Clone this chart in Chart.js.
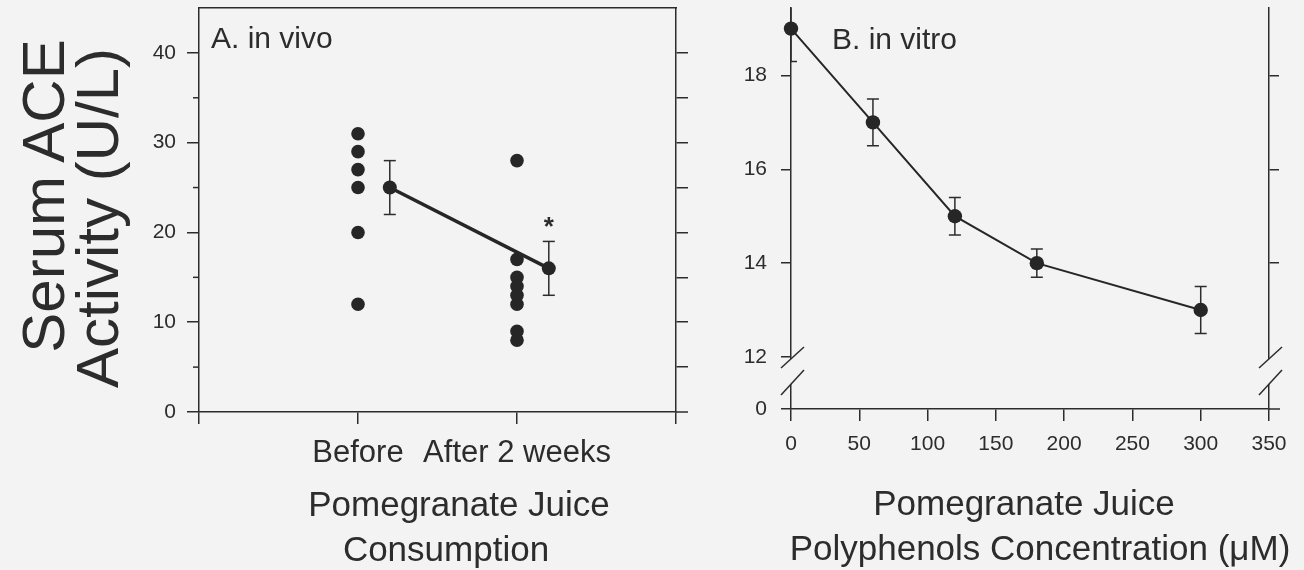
<!DOCTYPE html>
<html>
<head>
<meta charset="utf-8">
<script src="https://cdn.jsdelivr.net/npm/chart.js@4.4.1/dist/chart.umd.min.js"></script>
<style>
  body { margin: 0; background: #f3f3f3; }
  #wrap { position: relative; width: 1304px; height: 570px; overflow: hidden;
          font-family: 'Liberation Sans', Arial, sans-serif; color: #2c2c2c; }
  canvas { position: absolute; top: 0; }
  .lbl { position: absolute; white-space: nowrap; line-height: 1; transform: translate(-50%, -50%); }
  .left { transform: translate(0, -50%); }
  .rot { transform: translate(-50%, -50%) rotate(-90deg); }
</style>
</head>
<body>
<div id="wrap">
  <canvas id="vivo" width="700" height="570" style="left:0"></canvas>
  <canvas id="vitro" width="604" height="570" style="left:700px"></canvas>

  <div class="lbl rot" style="left:44px; top:196px; font-size:60px">Serum ACE</div>
  <div class="lbl rot" style="left:98px; top:218px; font-size:60px">Activity (U/L)</div>

  <div class="lbl left" style="left:211px; top:38px; font-size:30px">A. in vivo</div>
  <div class="lbl left" style="left:832px; top:39px; font-size:30px">B. in vitro</div>

  <div class="lbl" style="left:459px; top:503px; font-size:35px">Pomegranate Juice</div>
  <div class="lbl" style="left:446px; top:548px; font-size:35px">Consumption</div>
  <div class="lbl" style="left:1024px; top:502px; font-size:35px">Pomegranate Juice</div>
  <div class="lbl" style="left:1040px; top:547px; font-size:35px">Polyphenols Concentration (&mu;M)</div>
</div>
<script>
// panel A: individual patients, before / after 2 weeks of juice
const groupLabels = ['Before', 'After 2 weeks'];
const beforeValues = [31, 29, 27, 25, 20, 12];
const afterValues = [28, 17, 15, 14, 13, 12, 9, 8];
const groupMeans = [25, 16];
const groupErrors = [3, 3];
const meanX = [1.2, 2.2];
const vivoTicks = [0, 10, 20, 30, 40];
const vivoMinor = [5, 15, 25, 35];
const vivoRightTicks = [5, 10, 15, 20, 25, 30, 35, 40];

// panel B: serum ACE vs polyphenol concentration
const concentrations = [0, 60, 120, 180, 300];
const vitroMeans = [19, 17, 15, 14, 13];
const vitroErrors = [0.7, 0.5, 0.4, 0.3, 0.5];
const concTicks = [0, 50, 100, 150, 200, 250, 300, 350];
const vitroTicks = [12, 14, 16, 18];
const vitroRightTicks = [14, 16, 18];
const breakFloor = 10.89;   // where the broken axis shows "0"
const vitroTop = 19.45;

const FONT = "'Liberation Sans', Arial, sans-serif";
const INK = '#2c2c2c';
const DOT = '#262626';
const BG = '#f3f3f3';

function fixBox(w, h) {
    return function(scale) {
        if (w !== null) scale.width = w;
        if (h !== null) scale.height = h;
        scale.paddingTop = scale.paddingBottom = scale.paddingLeft = scale.paddingRight = 0;
    };
}
function setTicks(values) {
    return function(scale) { scale.ticks = values.map(v => ({ value: v })); };
}
function errorBar(x, m, e, cap) {
    return {
        data: [{ x: x, y: m - e }, { x: x, y: m + e }],
        showLine: true, borderColor: INK, borderWidth: 1.5,
        pointStyle: 'line', pointRadius: cap, pointHoverRadius: cap,
        pointBorderColor: INK, pointBorderWidth: 1.5, order: 2
    };
}
function axisGrid(len) {
    return { drawOnChartArea: false, tickLength: len, color: INK, lineWidth: 1.5, tickWidth: 1.5 };
}
const border = { color: INK, width: 1.5 };
const common = {
    responsive: false, animation: false, devicePixelRatio: 1,
    plugins: { legend: { display: false }, tooltip: { enabled: false } }
};

const vivoDecor = {
    id: 'vivoDecor',
    afterDraw(chart) {
        const { ctx, chartArea, scales } = chart;
        ctx.save();
        ctx.strokeStyle = INK;
        ctx.lineWidth = 1.5;
        vivoMinor.forEach(v => {
            const p = scales.y.getPixelForValue(v);
            ctx.beginPath(); ctx.moveTo(chartArea.left - 6, p); ctx.lineTo(chartArea.left, p); ctx.stroke();
        });
        ctx.beginPath(); ctx.moveTo(chartArea.right, chartArea.bottom); ctx.lineTo(chartArea.right + 12, chartArea.bottom); ctx.stroke();
        // significance mark over the "after" mean
        ctx.fillStyle = INK;
        ctx.font = 'bold 26px ' + FONT;
        ctx.textAlign = 'center';
        ctx.textBaseline = 'alphabetic';
        ctx.fillText('*', scales.x.getPixelForValue(meanX[1]), scales.y.getPixelForValue(groupMeans[1] + groupErrors[1]) - 6);
        ctx.restore();
    }
};

const vitroDecor = {
    id: 'vitroDecor',
    afterDraw(chart) {
        const { ctx, chartArea } = chart;
        const y12 = chart.scales.y.getPixelForValue(12);
        ctx.save();
        ctx.strokeStyle = INK;
        ctx.lineWidth = 1.5;
        [chartArea.left, chartArea.right].forEach(x => {
            ctx.fillStyle = BG;
            ctx.fillRect(x - 2, y12 + 2, 4, 25);
            [[11, -10], [38, 13]].forEach(([a, b]) => {
                ctx.beginPath(); ctx.moveTo(x - 10, y12 + a); ctx.lineTo(x + 13, y12 + b); ctx.stroke();
            });
        });
        ctx.beginPath(); ctx.moveTo(chartArea.right, chartArea.bottom); ctx.lineTo(chartArea.right + 11, chartArea.bottom); ctx.stroke();
        ctx.restore();
    }
};

new Chart(document.getElementById('vivo'), {
    type: 'scatter',
    data: {
        datasets: [
            { data: beforeValues.map(v => ({ x: 1, y: v })), pointRadius: 6.8, backgroundColor: DOT, borderWidth: 0, order: 0 },
            { data: afterValues.map(v => ({ x: 2, y: v })), pointRadius: 6.8, backgroundColor: DOT, borderWidth: 0, order: 0 },
            { data: meanX.map((x, i) => ({ x: x, y: groupMeans[i] })), showLine: true, borderColor: DOT, borderWidth: 3.5,
              pointRadius: 7, backgroundColor: DOT, pointBorderWidth: 0, order: 1 },
            ...meanX.map((x, i) => errorBar(x, groupMeans[i], groupErrors[i], 6))
        ]
    },
    options: Object.assign({}, common, {
        layout: { padding: { left: 139, right: 12, top: 8, bottom: 98 } },
        scales: {
            x: { type: 'linear', position: 'bottom', min: 0, max: 3,
                 afterBuildTicks: setTicks([0, 1, 2, 3]), afterFit: fixBox(null, 60),
                 ticks: { callback: v => groupLabels[v - 1] || '', font: { size: 31, family: FONT }, color: INK,
                          padding: 11, maxRotation: 0, autoSkip: false },
                 grid: axisGrid(12), border: border },
            xTop: { type: 'linear', position: 'top', min: 0, max: 3, afterFit: fixBox(null, 0),
                    ticks: { display: false }, grid: { drawOnChartArea: false, drawTicks: false }, border: border },
            y: { type: 'linear', position: 'left', min: 0, max: 45,
                 afterBuildTicks: setTicks(vivoTicks), afterFit: fixBox(60, null),
                 ticks: { font: { size: 21, family: FONT }, color: INK, padding: 11 },
                 grid: axisGrid(12), border: border },
            yRight: { type: 'linear', position: 'right', min: 0, max: 45,
                      afterBuildTicks: setTicks(vivoRightTicks), afterFit: fixBox(12, null),
                      ticks: { display: false }, grid: axisGrid(12), border: border }
        }
    }),
    plugins: [vivoDecor]
});

new Chart(document.getElementById('vitro'), {
    type: 'scatter',
    data: {
        datasets: [
            { data: concentrations.map((c, i) => ({ x: c, y: vitroMeans[i] })), showLine: true, borderColor: DOT, borderWidth: 2,
              pointRadius: 7.2, backgroundColor: DOT, pointBorderWidth: 0, clip: false, order: 0 },
            ...concentrations.map((c, i) => errorBar(c, vitroMeans[i], vitroErrors[i], 6))
        ]
    },
    options: Object.assign({}, common, {
        layout: { padding: { left: 31, right: 23, top: 3, bottom: 101 } },
        scales: {
            x: { type: 'linear', position: 'bottom', min: 0, max: 350,
                 afterBuildTicks: setTicks(concTicks), afterFit: fixBox(null, 60),
                 ticks: { font: { size: 21, family: FONT }, color: INK, padding: 11, maxRotation: 0, autoSkip: false },
                 grid: axisGrid(12), border: border },
            y: { type: 'linear', position: 'left', min: breakFloor, max: vitroTop,
                 afterBuildTicks: setTicks([breakFloor].concat(vitroTicks)), afterFit: fixBox(60, null),
                 ticks: { callback: v => (v < 12 ? '0' : v), font: { size: 21, family: FONT }, color: INK, padding: 14 },
                 grid: axisGrid(10), border: border },
            yRight: { type: 'linear', position: 'right', min: breakFloor, max: vitroTop,
                      afterBuildTicks: setTicks(vitroRightTicks), afterFit: fixBox(12, null),
                      ticks: { display: false }, grid: axisGrid(10), border: border }
        }
    }),
    plugins: [vitroDecor]
});
</script>
</body>
</html>
